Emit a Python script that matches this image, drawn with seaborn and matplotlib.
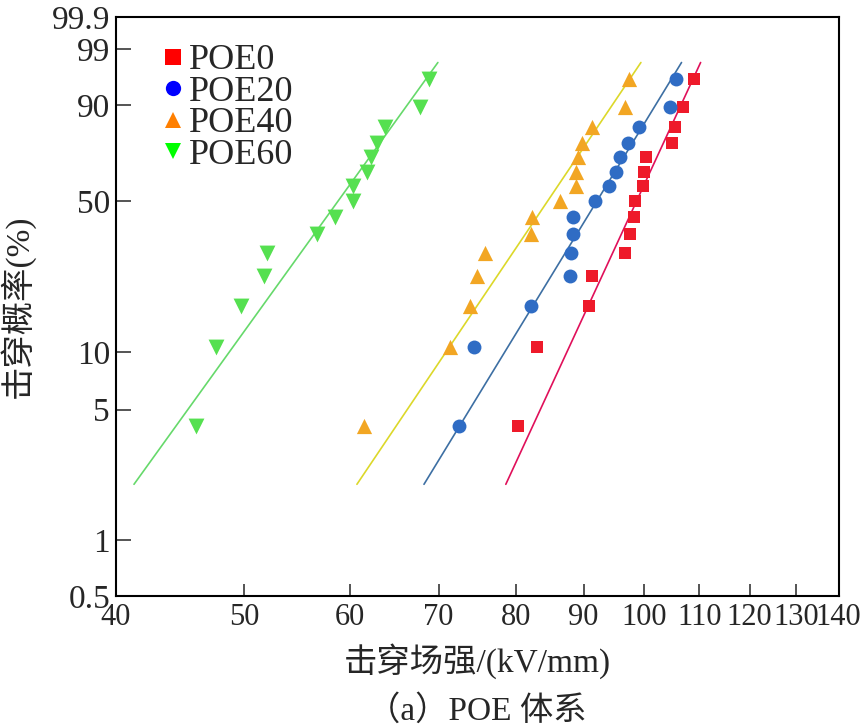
import numpy as np
import pandas as pd
import matplotlib
matplotlib.use("Agg")
import matplotlib.pyplot as plt
import seaborn as sns
from matplotlib.lines import Line2D
from matplotlib.ticker import FixedLocator, FixedFormatter, NullLocator

# ---------------- data ----------------
series = ["POE0", "POE20", "POE40", "POE60"]
prob = [4.1, 10.6, 17.0, 23.8, 30.4, 36.8, 43.3, 50.0, 56.6, 63.0, 69.9, 76.0, 82.5, 89.4, 95.8]
poe0 = [80.3, 83.0, 90.8, 91.3, 96.7, 97.5, 98.2, 98.4, 99.8, 99.9, 100.3, 104.9, 105.4, 106.9, 109.0]
poe20 = [72.5, 74.4, 82.2, 87.9, 88.1, 88.4, 88.4, 91.8, 94.1, 95.2, 95.9, 97.2, 99.1, 104.5, 105.6]
poe40 = [61.5, 71.4, 73.9, 74.8, 75.9, 82.2, 82.3, 86.4, 88.8, 88.8, 89.1, 89.8, 91.3, 96.7, 97.4]
poe60 = [46.0, 47.6, 49.7, 51.7, 52.0, 56.7, 58.5, 60.3, 60.4, 61.8, 62.3, 62.9, 63.8, 67.8, 68.8]
# Weibull fit parameters (scale, shape) for each series
fit_scale = [101.0, 95.0, 87.5, 61.0]
fit_shape = [15.6, 11.8, 10.7, 10.0]
fit_prob = [2.0, 98.0]

x_ticks = [40, 50, 60, 70, 80, 90, 100, 110, 120, 130, 140]
y_ticks = [0.5, 1, 5, 10, 50, 90, 99, 99.9]
y_ticklabels = ["0.5", "1", "5", "10", "50", "90", "99", "99.9"]

# ---------------- styling ----------------
marker_col = {"POE0": "#ee1a2a", "POE20": "#2f6cc4", "POE40": "#f2a623", "POE60": "#55e050"}
legend_col = {"POE0": "#ff0000", "POE20": "#0000ff", "POE40": "#ff7f00", "POE60": "#00ff00"}
line_col = {"POE0": "#e0105a", "POE20": "#3d6fa3", "POE40": "#dcd82a", "POE60": "#66d96b"}
markers = {"POE0": "s", "POE20": "o", "POE40": "^", "POE60": "v"}
msize = {"POE0": 85, "POE20": 100, "POE40": 120, "POE60": 130}

sns.set_style("ticks")
plt.rcParams["font.family"] = ["Liberation Serif", "Noto Sans CJK SC"]
plt.rcParams["font.size"] = 24
plt.rcParams["axes.unicode_minus"] = False

# ---------------- tables ----------------
vals = [poe0, poe20, poe40, poe60]
df = pd.DataFrame({
    "E": np.concatenate(vals),
    "P": np.tile(prob, len(series)),
    "s": np.repeat(series, len(prob)),
})

rows = []
for name, a, b in zip(series, fit_scale, fit_shape):
    pgrid = np.linspace(fit_prob[0], fit_prob[1], 200)
    e = a * (-np.log(1 - pgrid / 100.0)) ** (1.0 / b)
    rows.append(pd.DataFrame({"E": e, "P": pgrid, "s": name}))
fit_df = pd.concat(rows, ignore_index=True)

# ---------------- figure ----------------
fig = plt.figure(figsize=(8.63, 7.25), dpi=100)
ax = fig.add_axes([0.134, 0.178, 0.9717 - 0.134, 0.9766 - 0.178])


def fwd(p):
    p = np.clip(np.asarray(p, dtype=float), 1e-6, 100 - 1e-6) / 100.0
    return np.log(-np.log(1 - p))


def inv(t):
    return 100.0 * (1 - np.exp(-np.exp(np.asarray(t, dtype=float))))


ax.set_xscale("log")
ax.set_yscale("function", functions=(fwd, inv))

for name in series:
    sub = fit_df[fit_df["s"] == name]
    sns.lineplot(data=sub, x="E", y="P", ax=ax, color=line_col[name],
                 lw=1.2, sort=False, estimator=None, legend=False)

for name in series:
    sub = df[df["s"] == name]
    sns.scatterplot(data=sub, x="E", y="P", ax=ax, color=marker_col[name],
                    marker=markers[name], s=msize[name], linewidth=0,
                    legend=False, zorder=3)

ax.set_xlim(40, 140)
ax.set_ylim(0.5, 99.9)
ax.xaxis.set_major_locator(FixedLocator(x_ticks))
ax.xaxis.set_major_formatter(FixedFormatter([str(v) for v in x_ticks]))
ax.xaxis.set_minor_locator(NullLocator())
ax.yaxis.set_major_locator(FixedLocator(y_ticks))
ax.yaxis.set_major_formatter(FixedFormatter(y_ticklabels))
ax.yaxis.set_minor_locator(NullLocator())

ax.tick_params(axis="x", direction="in", length=8.5, width=1.1, pad=5, labelsize=22)
ax.tick_params(axis="y", direction="in", length=11, width=1.1, pad=4, labelsize=24)
for sp in ax.spines.values():
    sp.set_linewidth(1.5)
    sp.set_color("black")

ax.set_xlabel("击穿场强/(kV/mm)", fontsize=24, labelpad=8)
ax.set_ylabel("击穿概率(%)", fontsize=24, labelpad=12)
fig.text(0.553, 0.02, "（a）POE 体系", ha="center", va="center", fontsize=24)

handles = [Line2D([], [], ls="none", marker=markers[n], color=legend_col[n],
                  markersize=11, markeredgewidth=0) for n in series]
ax.legend(handles, series, loc="upper left", bbox_to_anchor=(0.065, 0.953),
          frameon=False, fontsize=26, handlelength=0.6, handletextpad=0.12,
          labelspacing=-0.05, borderpad=0.0, borderaxespad=0.0)

fig.savefig("out.png", dpi=100)
